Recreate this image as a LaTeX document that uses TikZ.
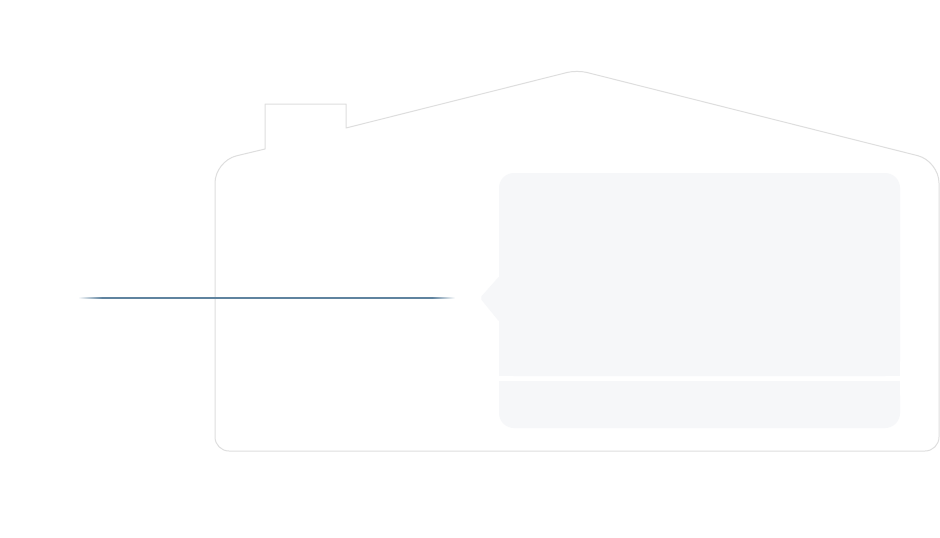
\documentclass[tikz,border=0pt]{standalone}
\usepackage{tikz}
\usetikzlibrary{calc}

\definecolor{wallgray}{HTML}{DEDEDE}
\definecolor{panelgray}{HTML}{F6F7F9}
\definecolor{lineblue}{HTML}{5F839F}

\tikzset{
  housepen/.style={draw=wallgray, line width=1pt, line join=round},
  panelfill/.style={fill=panelgray}
}

\begin{document}
\begin{tikzpicture}[x=1pt,y=-1pt]
\useasboundingbox[fill=white] (0,0) rectangle (940,538);

% house outline
\draw[housepen] (577,451) [rounded corners=14] -- (215,451)
  [rounded corners=22] -- (215,161) [sharp corners] -- (265,149) -- (265,104)
  -- (346,104) -- (346,128) [rounded corners=10] -- (577,70)
  [rounded corners=22] -- (939,161) [rounded corners=14] -- (939,451)
  [sharp corners] -- (577,451);

% panel with pointer
\fill[panelfill, rounded corners=15] (499,173) rectangle (900,376);
\fill[panelfill] (499,340) rectangle (900,376);
\fill[panelfill, rounded corners=15] (499,381) rectangle (900,428);
\fill[panelfill] (499,381) rectangle (900,400);
\fill[panelfill, rounded corners=2] (499.5,276) -- (480,298) -- (499.5,322) -- cycle;

% guide line
\shade[left color=white, right color=lineblue] (78,297.4) rectangle (102,298.6);
\fill[lineblue] (102,297.4) rectangle (432,298.6);
\shade[left color=lineblue, right color=white] (432,297.4) rectangle (455,298.6);

\end{tikzpicture}
\end{document}
